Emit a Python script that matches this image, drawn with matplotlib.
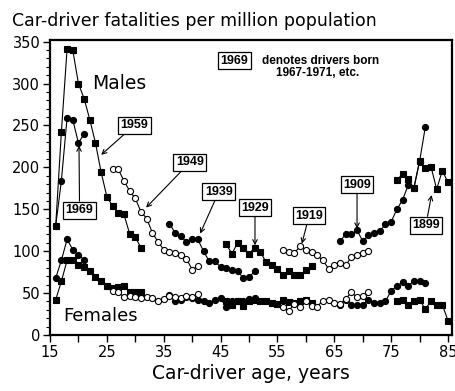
import numpy as np
import matplotlib
matplotlib.use("Agg")
import matplotlib.pyplot as plt
from matplotlib.ticker import MultipleLocator

# Car-driver fatalities per million population, by birth cohort (5-year groups)
# each list runs over consecutive ages starting at the given start age

# Males
male_1969 = [130, 184, 259, 257, 229, 240]
male_1959 = [130, 242, 341, 340, 300, 282, 257, 229, 194, 165, 154, 146, 144, 121, 117, 104]
male_1949 = [198, 198, 184, 172, 163, 147, 139, 122, 111, 102, 99, 98, 95, 91, 78, 82]
male_1939 = [133, 122, 118, 111, 115, 114, 100, 88, 88, 81, 80, 77, 76, 68, 69, 76]
male_1929 = [108, 97, 110, 104, 97, 104, 99, 87, 83, 79, 72, 76, 71, 71, 77, 82]
male_1919 = [101, 99, 98, 106, 102, 99, 95, 89, 79, 83, 86, 83, 93, 95, 98, 100]
male_1909 = [112, 120, 120, 125, 112, 119, 122, 124, 132, 135, 150, 161, 179, 176, 207, 248]
male_1899 = [185, 192, 186, 175, 208, 199, 201, 174, 196, 182]

# Females
fem_1969 = [68, 89, 114, 102, 95, 90]
fem_1959 = [42, 64, 89, 89, 83, 81, 76, 69, 64, 58, 56, 57, 59, 51, 51, 51]
fem_1949 = [52, 51, 45, 46, 45, 44, 45, 44, 41, 43, 46, 45, 44, 46, 45, 49]
fem_1939 = [48, 41, 42, 45, 44, 42, 40, 38, 42, 44, 33, 40, 40, 40, 43, 44]
fem_1929 = [40, 36, 41, 35, 40, 42, 40, 40, 38, 37, 42, 39, 38, 40, 42, 38]
fem_1919 = [34, 29, 37, 34, 40, 35, 34, 41, 42, 38, 37, 43, 51, 45, 46, 51]
fem_1909 = [36, 42, 36, 36, 36, 42, 38, 38, 40, 53, 58, 63, 58, 65, 65, 62]
fem_1899 = [40, 42, 36, 40, 42, 31, 40, 36, 36, 17]

cohorts = ["1969", "1959", "1949", "1939", "1929", "1919", "1909", "1899"]
start_ages = [16, 16, 26, 36, 46, 56, 66, 76]
males = [male_1969, male_1959, male_1949, male_1939, male_1929, male_1919, male_1909, male_1899]
females = [fem_1969, fem_1959, fem_1949, fem_1939, fem_1929, fem_1919, fem_1909, fem_1899]

# marker styles cycle: filled circle, filled square, open circle
marker_style = {
    "1969": ("o", "black"), "1959": ("s", "black"), "1949": ("o", "white"),
    "1939": ("o", "black"), "1929": ("s", "black"), "1919": ("o", "white"),
    "1909": ("o", "black"), "1899": ("s", "black"),
}

# cohort label: (box position, arrow tip)
labels = {
    "1969": ((20.2, 149), (20.1, 226)),
    "1959": ((29.8, 250), (24.0, 215)),
    "1949": ((39.6, 206), (31.9, 152)),
    "1939": ((44.7, 171), (41.4, 121)),
    "1929": ((51.05, 152), (51.05, 107)),
    "1919": ((60.55, 142), (59.3, 109)),
    "1909": ((69.0, 179), (69.0, 127)),
    "1899": ((81.1, 131), (82.1, 167)),
}

fig = plt.figure(figsize=(4.56, 3.91), dpi=100)
ax = fig.add_axes([50 / 456, 1 - 335 / 391, 402 / 456, 295 / 391])

for sex in (males, females):
    for name, a0, vals in zip(cohorts, start_ages, sex):
        ages = np.arange(a0, a0 + len(vals))
        m, fc = marker_style[name]
        ms = 4.6 if m == "s" else 4.4
        ax.plot(ages, vals, color="black", lw=0.8, marker=m, ms=ms,
                mfc=fc, mec="black", mew=0.8, zorder=3 if fc == "white" else 2)

box = dict(boxstyle="square,pad=0.2", fc="white", ec="black", lw=0.9)
for name, (txt_xy, tip_xy) in labels.items():
    ax.annotate(name, xy=tip_xy, xytext=txt_xy, ha="center", va="center",
                family="Liberation Sans", weight="bold", fontsize=9, bbox=box,
                arrowprops=dict(arrowstyle="->", color="black", lw=0.8,
                                shrinkA=0, shrinkB=0, mutation_scale=8),
                zorder=5)

# key in the top right
ax.text(47.4, 327, "1969", ha="center", va="center", family="Liberation Sans",
        weight="bold", fontsize=9, bbox=box)
ax.text(52.2, 327, "denotes drivers born", ha="left", va="center",
        family="Liberation Sans", weight="bold", fontsize=8.5)
ax.text(62.0, 313, "1967-1971, etc.", ha="center", va="center",
        family="Liberation Sans", weight="bold", fontsize=8.5)

ax.text(22.4, 300, "Males", fontsize=13.5, family="DejaVu Sans", va="center")
ax.text(17.3, 23, "Females", fontsize=13, family="DejaVu Sans", va="center")

ax.set_xlim(15, 85.7)
ax.set_ylim(0, 352)
ax.xaxis.set_major_locator(MultipleLocator(10))
ax.set_xticks(np.arange(15, 86, 10))
ax.set_xticks(np.arange(20, 85, 10), minor=True)
ax.yaxis.set_major_locator(MultipleLocator(50))
ax.yaxis.set_minor_locator(MultipleLocator(10))
ax.tick_params(axis="both", which="major", direction="out", length=5, width=1,
               labelsize=10.5, pad=2)
ax.tick_params(axis="x", which="minor", direction="out", length=5, width=1)
ax.tick_params(axis="y", which="minor", direction="out", length=3, width=0.8)
for s in ax.spines.values():
    s.set_linewidth(1.6)

ax.set_xlabel("Car-driver age, years", fontsize=13.5, labelpad=3)
fig.text(12 / 456, 1 - 21 / 391, "Car-driver fatalities per million population",
         fontsize=12.5, va="center", ha="left")

fig.savefig("out.png", dpi=100)
